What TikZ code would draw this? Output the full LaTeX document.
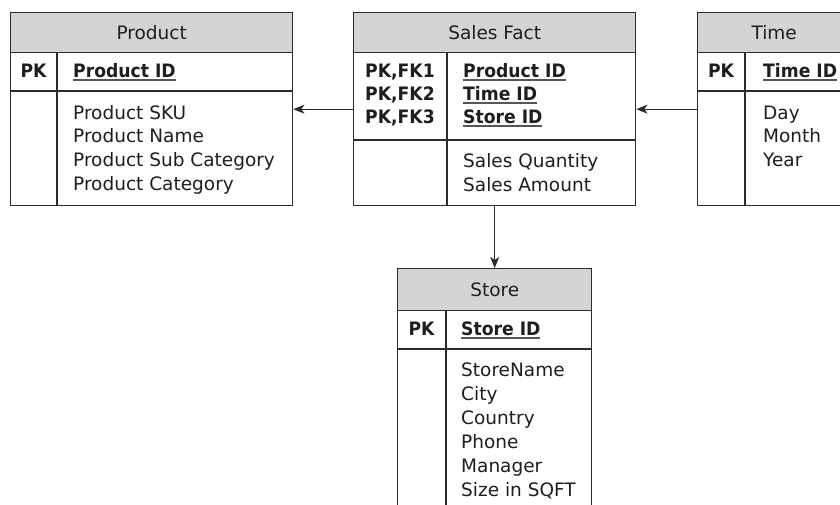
\documentclass[tikz,border=0pt]{standalone}
\usepackage{fontspec}
\setmainfont{DejaVu Sans}[BoldFeatures={FakeStretch=0.93}]
\usetikzlibrary{arrows.meta}
\definecolor{ink}{HTML}{1E1E1E}
\definecolor{frame}{HTML}{2B2B2B}
\definecolor{headfill}{HTML}{D4D4D4}
\definecolor{keyline}{HTML}{555555}
% bold, underlined primary-key attribute
\newcommand\keyname[1]{\setbox0=\hbox{\bfseries #1}\rlap{\color{keyline}\rule[-4pt]{\wd0}{1.8pt}}\box0}

\begin{document}
\begin{tikzpicture}[x=1pt,y=-1pt,
  every node/.style={font=\fontsize{18.5}{23}\selectfont, text=ink, inner sep=0pt},
  tablebox/.style={draw=frame, line width=1.4pt, fill=white, anchor=north west},
  headbox/.style={draw=frame, line width=1.4pt, fill=headfill, anchor=north west},
  sep/.style={draw=frame, line width=1.4pt},
  attr/.style={anchor=base west},
  keycol/.style={anchor=base, font=\fontsize{18.5}{23}\selectfont\bfseries},
  conn/.style={draw=frame, line width=1.3pt, -{Stealth[length=11pt,width=9pt,inset=3pt]}}]

\useasboundingbox (0,0) rectangle (840,504);
\clip (0,0) rectangle (840,504);

% ---------- Product ----------
\node[tablebox, minimum width=282pt, minimum height=193pt] (product) at (10,12) {};
\node[headbox, minimum width=282pt, minimum height=40pt] (producthead) at (10,12) {Product};
\draw[sep] (10,91) -- (292,91);
\draw[sep] (57,52) -- (57,205);
\node[keycol] (productpk) at (33.5,77) {PK};
\node[attr] (productid) at (73,77) {\keyname{Product ID}};
\foreach \t [count=\i] in {Product SKU, Product Name, Product Sub Category, Product Category}
  \node[attr] (productattr\i) at (73,{119+(\i-1)*23.8}) {\t};

% ---------- Sales Fact ----------
\node[tablebox, minimum width=282pt, minimum height=193pt] (sales) at (353,12) {};
\node[headbox, minimum width=282pt, minimum height=40pt] (saleshead) at (353,12) {Sales Fact};
\draw[sep] (353,140) -- (635,140);
\draw[sep] (447,52) -- (447,205);
\foreach \k/\t [count=\i] in {PK{,}FK1/Product ID, PK{,}FK2/Time ID, PK{,}FK3/Store ID} {
  \node[keycol] (saleskey\i) at (400,{77+(\i-1)*23}) {\k};
  \node[attr] (salesid\i) at (463,{77+(\i-1)*23}) {\keyname{\t}};
}
\foreach \t [count=\i] in {Sales Quantity, Sales Amount}
  \node[attr] (salesattr\i) at (463,{167+(\i-1)*24}) {\t};

% ---------- Time ----------
\node[tablebox, minimum width=153pt, minimum height=193pt] (time) at (697,12) {};
\node[headbox, minimum width=153pt, minimum height=40pt] (timehead) at (697,12) {Time};
\draw[sep] (697,91) -- (850,91);
\draw[sep] (745,52) -- (745,205);
\node[keycol] (timepk) at (721,77) {PK};
\node[attr] (timeid) at (763,77) {\keyname{Time ID}};
\foreach \t [count=\i] in {Day, Month, Year}
  \node[attr] (timeattr\i) at (763,{119+(\i-1)*23.6}) {\t};

% ---------- Store ----------
\node[tablebox, minimum width=194pt, minimum height=262pt] (store) at (397,268) {};
\node[headbox, minimum width=194pt, minimum height=42pt] (storehead) at (397,268) {Store};
\draw[sep] (397,349) -- (591,349);
\draw[sep] (446,310) -- (446,530);
\node[keycol] (storepk) at (421.5,335) {PK};
\node[attr] (storeid) at (461,335) {\keyname{Store ID}};
\foreach \t [count=\i] in {StoreName, City, Country, Phone, Manager, Size in SQFT}
  \node[attr] (storeattr\i) at (461,{376+(\i-1)*24}) {\t};

% ---------- relationships ----------
\draw[conn] (sales.west) -- (product.east);
\draw[conn] (time.west) -- (sales.east);
\draw[conn] (sales.south) -- (store.north);
\end{tikzpicture}
\end{document}
